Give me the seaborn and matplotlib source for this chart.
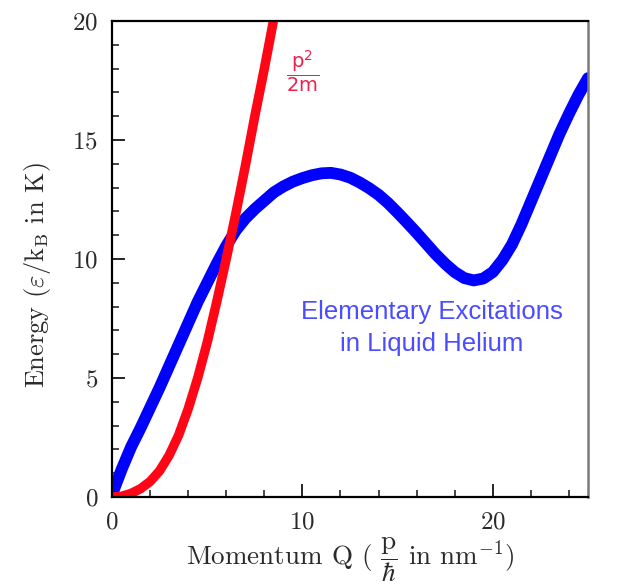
import pandas as pd
import matplotlib
matplotlib.use("Agg")
import matplotlib.pyplot as plt
from matplotlib.ticker import MultipleLocator
import seaborn as sns

# Dispersion curve of elementary excitations in liquid helium
momentum_he = [0, 0.5, 1, 1.5, 2, 2.5, 3, 3.5, 4, 4.5, 5, 5.5, 6, 6.5, 7, 7.5, 8, 8.5,
               9, 9.5, 10, 10.5, 11, 11.5, 12, 12.5, 13, 13.5, 14, 14.5, 15, 15.5, 16,
               16.5, 17, 17.5, 18, 18.5, 19, 19.5, 20, 20.5, 21, 21.5, 22, 22.5, 23,
               23.5, 24, 24.5, 25]
energy_he = [0.1, 1.15, 2.1, 2.9, 3.75, 4.6, 5.5, 6.4, 7.3, 8.2, 9.0, 9.8, 10.55, 11.2,
             11.7, 12.1, 12.45, 12.8, 13.05, 13.25, 13.4, 13.52, 13.6, 13.62, 13.55,
             13.42, 13.22, 12.98, 12.7, 12.35, 11.95, 11.53, 11.1, 10.65, 10.2, 9.8,
             9.45, 9.2, 9.1, 9.18, 9.45, 9.95, 10.6, 11.45, 12.4, 13.35, 14.3, 15.25,
             16.1, 16.9, 17.6]

# Free particle p^2/2m curve
momentum_free = [0, 0.5, 1, 1.5, 2, 2.5, 3, 3.5, 4, 4.5, 5, 5.5, 6, 6.5, 7, 7.5, 8,
                 8.5, 8.8]
energy_free = [0, 0.03, 0.15, 0.35, 0.65, 1.1, 1.75, 2.6, 3.7, 5.0, 6.5, 8.2, 10.0,
               11.9, 13.9, 16.0, 18.0, 20.1, 21.3]

x_ticks = [0, 10, 20]
y_ticks = [0, 5, 10, 15, 20]

he_df = pd.DataFrame({"Q": momentum_he, "E": energy_he})
free_df = pd.DataFrame({"Q": momentum_free, "E": energy_free})

sns.set_style("white")
plt.rcParams["font.family"] = ["cmr10", "DejaVu Serif"]
plt.rcParams["mathtext.fontset"] = "cm"
plt.rcParams["axes.formatter.use_mathtext"] = True

fig = plt.figure(figsize=(6.23, 5.87), dpi=100)
ax = fig.add_axes([0.1798, 0.1533, 0.764, 0.8109])

sns.lineplot(data=he_df, x="Q", y="E", sort=False, estimator=None, color="#0000ff",
             linewidth=8.5, solid_capstyle="round", solid_joinstyle="round", ax=ax)
sns.lineplot(data=free_df, x="Q", y="E", sort=False, estimator=None, color="#ff0616",
             linewidth=6.8, solid_capstyle="round", solid_joinstyle="round", ax=ax)

ax.set_xlim(0, 25)
ax.set_ylim(0, 20)
ax.set_xticks(x_ticks)
ax.set_yticks(y_ticks)
ax.xaxis.set_minor_locator(MultipleLocator(2))
ax.yaxis.set_minor_locator(MultipleLocator(1))
ax.tick_params(which="major", direction="in", length=9.5, width=1.4, labelsize=18,
               labelcolor="#2a2a2a", pad=10, top=False, right=False, left=True, bottom=True)
ax.tick_params(which="minor", direction="in", length=5, width=1.2,
               top=False, right=False, left=True, bottom=True)

for side in ["left", "bottom", "top"]:
    ax.spines[side].set_color("black")
    ax.spines[side].set_linewidth(1.6)
ax.spines["right"].set_color("#7a7a7a")
ax.spines["right"].set_linewidth(1.8)

ax.set_xlabel(r"Momentum Q ( $\dfrac{\mathrm{p}}{\hbar}$ in nm$^{\mathrm{-1}}$)",
              fontsize=19.5, color="#2a2a2a")
ax.set_ylabel(r"Energy ($\varepsilon$/k$_\mathrm{B}$ in K)", fontsize=19, color="#2a2a2a")
ax.xaxis.set_label_coords(0.5, -0.08)
ax.yaxis.set_label_coords(-0.124, 0.466)

ax.text(16.8, 7.1, "Elementary Excitations\nin Liquid Helium", ha="center", va="center",
        fontsize=18.5, color="#4b4bff", family="Liberation Sans", linespacing=1.4)
ax.text(10.0, 17.9, r"$\dfrac{\mathrm{p}^2}{\mathrm{2m}}$", ha="center", va="center",
        fontsize=14, color="#ee1f4b", math_fontfamily="dejavusans")

fig.savefig("out.png", dpi=100, facecolor="white")
